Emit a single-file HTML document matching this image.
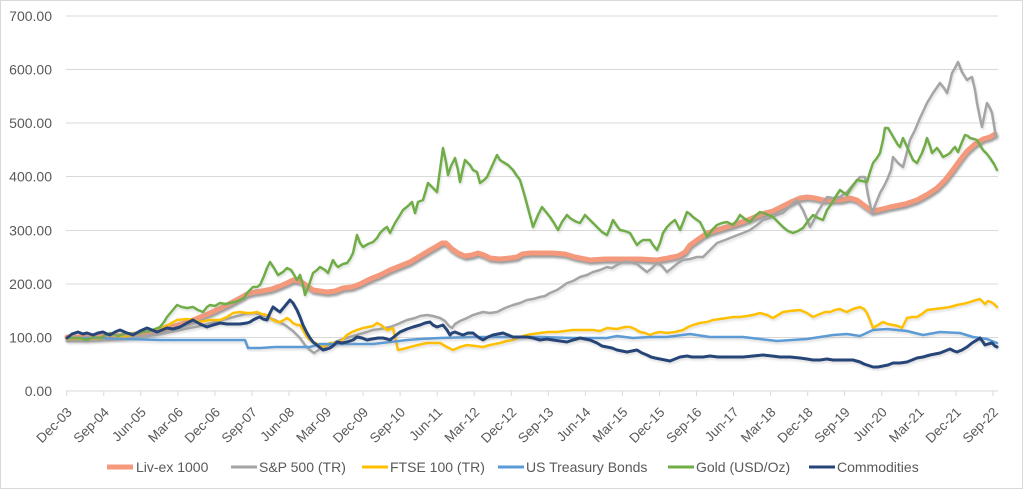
<!DOCTYPE html>
<html><head><meta charset="utf-8"><style>
html,body{margin:0;padding:0;background:#fff;}
svg{display:block;font-family:"Liberation Sans",sans-serif;}
</style></head><body>
<svg width="1024" height="490" viewBox="0 0 1024 490" xmlns="http://www.w3.org/2000/svg">
<defs>
<filter id="sh" x="-5%" y="-10%" width="110%" height="130%"><feDropShadow dx="1" dy="2.5" stdDeviation="1" flood-color="#8a8a8a" flood-opacity="0.85"/></filter>
<filter id="sh2" x="-5%" y="-10%" width="110%" height="130%"><feDropShadow dx="1" dy="2" stdDeviation="1" flood-color="#999" flood-opacity="0.3"/></filter>
</defs>
<rect x="0.5" y="0.5" width="1022" height="488" fill="#fff" stroke="#D9D9D9"/>
<g stroke="#D9D9D9" stroke-width="1">
<line x1="66" y1="16" x2="998" y2="16"/>
<line x1="66" y1="69.5" x2="998" y2="69.5"/>
<line x1="66" y1="123" x2="998" y2="123"/>
<line x1="66" y1="176.5" x2="998" y2="176.5"/>
<line x1="66" y1="230.5" x2="998" y2="230.5"/>
<line x1="66" y1="284" x2="998" y2="284"/>
<line x1="66" y1="337.5" x2="998" y2="337.5"/>
<line x1="66" y1="391" x2="998" y2="391"/>
</g>
<g fill="#595959" font-size="14" text-anchor="end">
<text x="52" y="21">700.00</text>
<text x="52" y="74.5">600.00</text>
<text x="52" y="128">500.00</text>
<text x="52" y="181.5">400.00</text>
<text x="52" y="235.5">300.00</text>
<text x="52" y="289">200.00</text>
<text x="52" y="342.5">100.00</text>
<text x="52" y="396">0.00</text>
</g>
<g stroke="#D9D9D9" stroke-width="1">
<line x1="66.7" y1="391" x2="66.7" y2="396"/><line x1="103.8" y1="391" x2="103.8" y2="396"/><line x1="140.8" y1="391" x2="140.8" y2="396"/><line x1="177.9" y1="391" x2="177.9" y2="396"/><line x1="214.9" y1="391" x2="214.9" y2="396"/><line x1="251.9" y1="391" x2="251.9" y2="396"/><line x1="289" y1="391" x2="289" y2="396"/><line x1="326" y1="391" x2="326" y2="396"/><line x1="363.1" y1="391" x2="363.1" y2="396"/><line x1="400.1" y1="391" x2="400.1" y2="396"/><line x1="437.2" y1="391" x2="437.2" y2="396"/><line x1="474.2" y1="391" x2="474.2" y2="396"/><line x1="511.3" y1="391" x2="511.3" y2="396"/><line x1="548.3" y1="391" x2="548.3" y2="396"/><line x1="585.4" y1="391" x2="585.4" y2="396"/><line x1="622.4" y1="391" x2="622.4" y2="396"/><line x1="659.5" y1="391" x2="659.5" y2="396"/><line x1="696.5" y1="391" x2="696.5" y2="396"/><line x1="733.6" y1="391" x2="733.6" y2="396"/><line x1="770.6" y1="391" x2="770.6" y2="396"/><line x1="807.7" y1="391" x2="807.7" y2="396"/><line x1="844.7" y1="391" x2="844.7" y2="396"/><line x1="881.8" y1="391" x2="881.8" y2="396"/><line x1="918.8" y1="391" x2="918.8" y2="396"/><line x1="955.9" y1="391" x2="955.9" y2="396"/><line x1="992.9" y1="391" x2="992.9" y2="396"/>
</g>
<g fill="#595959" font-size="13.5" text-anchor="end">
<text transform="translate(72.7,413) rotate(-45)">Dec-03</text>
<text transform="translate(109.8,413) rotate(-45)">Sep-04</text>
<text transform="translate(146.8,413) rotate(-45)">Jun-05</text>
<text transform="translate(183.9,413) rotate(-45)">Mar-06</text>
<text transform="translate(220.9,413) rotate(-45)">Dec-06</text>
<text transform="translate(257.9,413) rotate(-45)">Sep-07</text>
<text transform="translate(295,413) rotate(-45)">Jun-08</text>
<text transform="translate(332,413) rotate(-45)">Mar-09</text>
<text transform="translate(369.1,413) rotate(-45)">Dec-09</text>
<text transform="translate(406.1,413) rotate(-45)">Sep-10</text>
<text transform="translate(443.2,413) rotate(-45)">Jun-11</text>
<text transform="translate(480.2,413) rotate(-45)">Mar-12</text>
<text transform="translate(517.3,413) rotate(-45)">Dec-12</text>
<text transform="translate(554.3,413) rotate(-45)">Sep-13</text>
<text transform="translate(591.4,413) rotate(-45)">Jun-14</text>
<text transform="translate(628.4,413) rotate(-45)">Mar-15</text>
<text transform="translate(665.5,413) rotate(-45)">Dec-15</text>
<text transform="translate(702.5,413) rotate(-45)">Sep-16</text>
<text transform="translate(739.6,413) rotate(-45)">Jun-17</text>
<text transform="translate(776.6,413) rotate(-45)">Mar-18</text>
<text transform="translate(813.7,413) rotate(-45)">Dec-18</text>
<text transform="translate(850.7,413) rotate(-45)">Sep-19</text>
<text transform="translate(887.8,413) rotate(-45)">Jun-20</text>
<text transform="translate(924.8,413) rotate(-45)">Mar-21</text>
<text transform="translate(961.9,413) rotate(-45)">Dec-21</text>
<text transform="translate(998.9,413) rotate(-45)">Sep-22</text>
</g>
<g fill="none" stroke-linejoin="round" stroke-linecap="round">
<polyline filter="url(#sh)" stroke="#F5997B" stroke-width="5" points="67,337 90,337 110,336 127,335 145,333 160,330 178,325 193,320 210,313 227,305 240,298 247,294 255,292 262,291 272,289 280,286 287,283 293,280 300,281 306,285 313,290 320,291 327,292 335,291 343,288 352,287 360,284 370,279 380,275 390,270 400,266 410,262 420,256 430,250 437,246 442,243 446,243 452,249 458,253 465,256 472,255 478,253 484,255 490,258 500,259 510,258 517,257 522,254 530,253 540,253 553,253 565,254 575,257 590,260 605,259 623,259 640,259 657,260 668,258 678,256 685,252 690,245 697,240 707,233 720,229 733,225 745,221 757,216 765,213 773,211 783,206 793,201 800,198 807,197 815,198 823,200 833,200 840,200 850,198 857,200 865,206 872,211 878,210 890,207 905,204 917,200 928,194 937,188 945,180 952,171 960,160 967,151 975,144 983,139 990,137 995,134"/>
<polyline filter="url(#sh2)" stroke="#A5A5A5" stroke-width="2.5" points="67,341 85,341 100,340 120,339 140,337 160,334 180,330 200,326 215,322 230,318 245,314 255,313 265,316 275,320 285,325 293,331 300,338 305,345 310,350 314,353 320,349 327,346 333,343 340,340 350,337 360,334 367,332 373,330 380,329 390,327 398,324 407,320 415,318 420,316 427,315 433,316 440,318 445,321 449,326 452,328 455,324 460,321 467,318 473,315 483,312 490,313 497,312 505,308 513,305 520,303 527,300 533,299 540,297 545,296 550,293 557,290 563,286 567,283 573,281 580,277 587,275 593,272 600,270 607,267 612,268 617,265 623,262 630,262 637,264 642,268 647,272 652,268 657,263 662,266 667,272 672,268 678,263 683,260 690,259 697,257 703,257 710,250 717,243 725,240 735,236 743,233 750,230 757,225 763,220 770,218 777,215 783,213 790,206 797,200 803,210 808,222 810,227 814,220 817,213 822,205 827,197 833,198 840,197 847,192 853,185 860,177 865,177 868,195 872,213 876,203 880,193 884,186 887,180 891,170 893,157 898,163 903,167 907,152 910,140 915,130 920,118 927,103 933,93 940,83 944,88 947,93 950,82 952,73 955,68 958,62 962,72 967,80 970,78 972,77 975,90 977,103 980,118 982,127 985,112 987,103 990,108 992,113 994,125 996,137"/>
<polyline filter="url(#sh2)" stroke="#FFC000" stroke-width="2.5" points="67,339 80,339 96,339 110,338 125,337 135,334 140,333 150,331 160,328 168,325 177,320 187,319 193,320 200,322 210,320 220,320 227,317 233,313 240,312 247,313 252,313 257,312 262,314 267,315 270,318 273,320 277,322 280,322 284,320 287,318 290,320 293,323 297,325 300,325 303,330 307,337 310,340 313,342 318,344 323,347 327,345 330,343 335,343 340,342 344,338 347,335 352,332 357,330 363,328 368,327 373,326 377,323 381,325 387,330 391,329 393,328 395,337 398,350 403,349 410,347 418,345 427,343 433,343 440,343 447,347 453,350 460,347 467,345 475,346 483,347 490,345 500,343 507,341 513,340 520,337 527,335 533,334 540,333 548,332 557,332 565,331 573,330 583,330 593,330 600,331 607,328 617,329 625,327 630,327 635,329 640,332 645,333 650,335 655,333 660,332 667,333 675,332 683,330 688,327 693,325 700,323 707,322 713,320 720,319 727,318 733,317 740,317 747,316 753,315 760,313 767,315 773,318 778,315 783,312 790,311 800,310 807,313 813,317 820,314 825,312 830,312 835,310 840,309 844,311 847,312 853,309 860,307 864,309 867,313 870,320 873,328 878,325 883,322 888,324 893,325 898,326 902,328 905,322 907,318 912,317 917,317 922,314 927,310 935,309 943,308 950,307 957,305 962,304 967,303 973,301 980,299 983,302 985,304 988,301 991,302 994,304 997,307"/>
<polyline filter="url(#sh2)" stroke="#5B9BD5" stroke-width="2.5" points="67,338 100,338 130,339 160,340 200,340 230,340 245,340 248,348 255,348 260,348 275,347 293,347 310,347 320,344 340,344 360,344 373,344 390,342 407,340 420,339 440,338 473,337 507,337 540,337 573,338 607,338 617,336 633,338 650,337 667,337 690,334 710,337 743,337 777,341 807,339 833,335 847,334 860,336 873,330 887,329 907,331 923,335 940,332 960,333 973,337 987,339 997,343"/>
<polyline filter="url(#sh2)" stroke="#70AD47" stroke-width="2.5" points="67,338 80,338 87,340 93,337 100,338 110,333 118,336 127,333 135,334 143,332 150,331 160,327 164,322 167,317 172,311 177,305 182,307 187,308 193,307 198,310 203,312 207,307 210,305 215,306 220,303 225,304 230,303 235,302 240,300 244,298 247,293 250,290 253,287 257,287 260,285 264,276 267,268 270,262 274,268 278,275 283,272 287,268 291,270 293,273 297,280 300,275 303,285 305,295 309,285 313,273 317,270 320,267 325,270 328,273 333,260 336,265 338,267 343,264 347,263 350,259 353,253 357,235 360,243 363,247 368,244 373,242 377,238 380,233 384,229 387,227 390,233 395,223 400,215 403,210 408,206 412,202 415,213 418,202 423,200 426,190 428,183 432,187 437,192 440,170 443,148 446,162 448,175 451,166 455,158 458,170 460,182 463,168 465,160 470,165 473,170 477,172 480,183 484,180 487,177 492,166 497,155 500,160 503,162 508,165 513,170 517,176 520,180 523,190 525,197 529,212 533,227 538,215 542,207 546,212 550,217 554,223 558,230 562,222 567,215 570,218 573,220 577,222 580,223 585,215 589,219 593,223 598,228 602,232 607,235 610,228 613,220 617,226 620,230 625,231 630,233 634,240 637,245 640,242 643,240 647,240 650,240 653,245 657,250 660,243 663,233 667,227 671,223 675,220 680,230 684,220 687,212 690,214 693,217 697,220 700,222 704,230 707,237 712,230 717,225 722,223 727,222 733,225 737,220 740,215 745,219 750,222 755,216 760,212 766,214 773,217 778,222 783,227 788,231 793,233 798,231 803,228 808,221 813,215 818,218 823,220 827,210 832,203 836,196 840,190 844,193 847,195 852,187 857,180 862,181 867,182 870,172 873,163 877,158 880,153 883,140 885,128 888,128 891,133 895,140 898,145 900,147 903,138 908,149 913,160 917,163 920,157 922,153 925,145 927,138 930,146 932,153 935,150 937,148 940,152 943,157 947,155 950,153 953,149 955,147 958,152 962,142 965,135 968,136 970,138 974,139 977,140 980,145 983,150 987,154 990,158 994,164 997,170"/>
<polyline filter="url(#sh2)" stroke="#264478" stroke-width="3" points="67,338 72,334 78,332 83,334 87,333 93,335 98,333 103,332 107,334 110,335 115,332 120,330 127,333 133,335 140,331 147,328 152,330 157,332 162,330 167,328 173,329 180,327 187,323 193,320 200,324 207,327 213,325 220,323 227,324 233,324 240,324 247,323 250,322 253,320 257,318 260,317 263,319 267,320 270,313 273,307 277,310 280,312 285,306 290,300 293,303 297,310 300,317 303,325 307,333 310,338 313,342 318,346 323,350 327,349 330,348 334,345 337,342 342,343 347,342 353,340 357,337 362,338 367,340 372,339 378,338 383,338 387,339 390,340 395,336 400,332 407,329 413,327 420,325 425,323 430,322 433,325 437,327 440,326 443,325 447,330 450,335 452,333 455,332 460,334 463,335 468,333 473,333 478,337 483,340 488,337 493,335 498,334 503,333 508,335 513,337 520,337 527,337 533,338 540,340 547,339 553,340 560,341 567,342 573,340 580,338 585,339 590,340 597,343 602,346 607,347 612,348 617,350 622,351 627,352 632,351 637,350 642,353 647,355 651,357 655,358 660,359 665,360 670,361 675,359 680,357 687,356 692,357 697,357 703,357 710,356 718,357 727,357 735,357 743,357 753,356 763,355 772,356 780,357 790,357 800,358 807,359 813,360 820,360 827,359 833,360 840,360 847,360 853,360 860,362 864,364 867,365 873,367 878,367 883,366 888,365 893,363 900,363 907,362 912,360 917,358 923,357 930,355 935,354 940,353 945,351 950,349 954,351 957,352 962,350 967,347 972,343 977,340 980,338 983,342 985,345 988,344 992,343 995,346 997,347"/>
</g>
<g stroke-linecap="butt">
<line x1="107" y1="467" x2="133" y2="467" stroke="#F5997B" stroke-width="5"/>
<line x1="231" y1="467" x2="257" y2="467" stroke="#A5A5A5" stroke-width="3"/>
<line x1="362" y1="467" x2="388" y2="467" stroke="#FFC000" stroke-width="3"/>
<line x1="498" y1="467" x2="524" y2="467" stroke="#5B9BD5" stroke-width="3"/>
<line x1="668" y1="467" x2="694" y2="467" stroke="#70AD47" stroke-width="3"/>
<line x1="809" y1="467" x2="835" y2="467" stroke="#264478" stroke-width="3"/>
</g>
<g fill="#595959" font-size="14">
<text x="136" y="472">Liv-ex 1000</text>
<text x="259" y="472">S&amp;P 500 (TR)</text>
<text x="390" y="472">FTSE 100 (TR)</text>
<text x="526" y="472">US Treasury Bonds</text>
<text x="696" y="472">Gold (USD/Oz)</text>
<text x="837" y="472">Commodities</text>
</g>
</svg>
</body></html>
